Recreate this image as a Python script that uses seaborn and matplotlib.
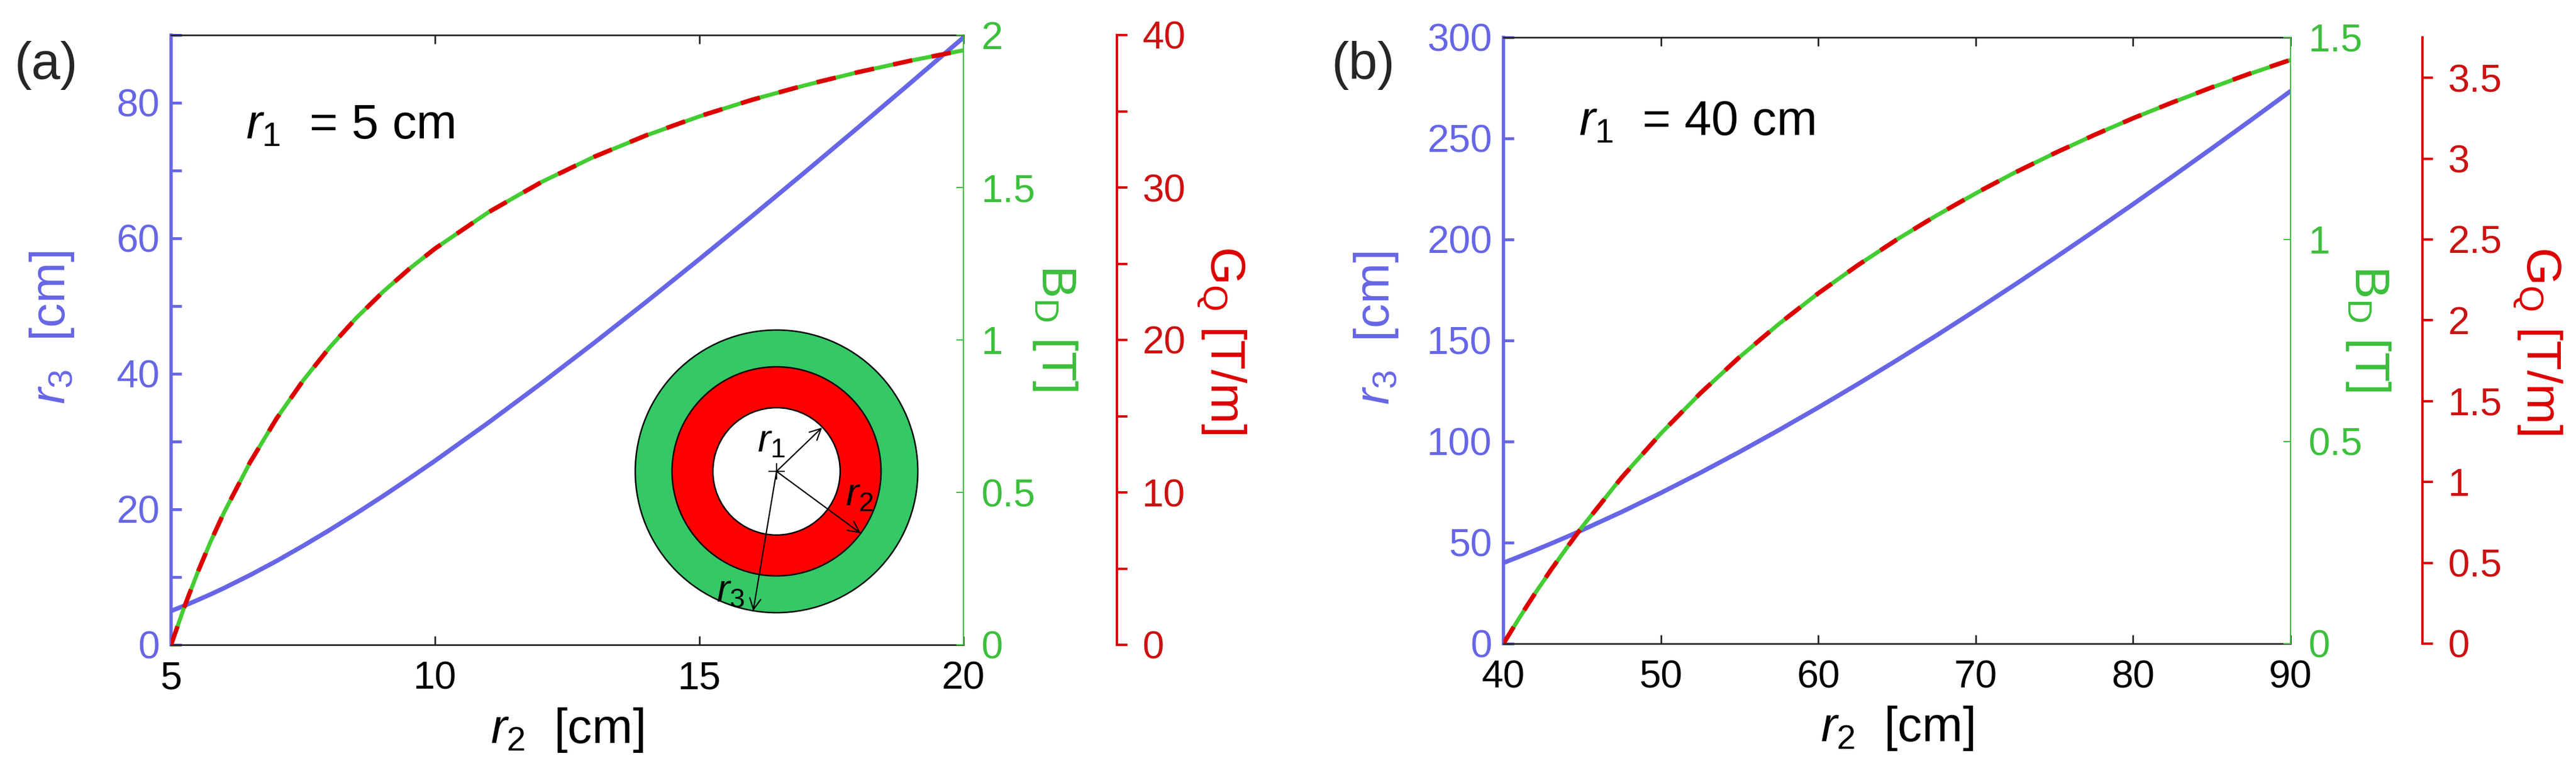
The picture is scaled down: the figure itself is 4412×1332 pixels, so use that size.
import matplotlib
matplotlib.use("Agg")
import matplotlib.pyplot as plt
import matplotlib.ticker as mticker
from matplotlib.patches import Circle
import seaborn as sns

# ── Data ─────────────────────────────────────────────────────────────────────
# panel (a): r1 = 5 cm
R2_A = [5, 5.25, 5.5, 5.75, 6, 6.5, 7, 7.5, 8, 8.5, 9, 9.5, 10,
        11, 12, 13, 14, 15, 16, 17, 18, 19, 20]
R3_A = [5.0, 5.77, 6.60, 7.46, 8.37, 10.31, 12.39, 14.61, 16.94, 19.37, 21.89, 24.50, 27.18,
        32.75, 38.54, 44.51, 50.64, 56.91, 63.28, 69.76, 76.31, 82.94, 89.63]
BD_A = [0.0, 0.124, 0.236, 0.339, 0.433, 0.600, 0.743, 0.867, 0.975, 1.071, 1.156, 1.232, 1.300,
        1.418, 1.517, 1.600, 1.671, 1.733, 1.788, 1.835, 1.878, 1.916, 1.950]
GQ_A = [0.0, 2.48, 4.73, 6.78, 8.67, 12.0, 14.86, 17.33, 19.5, 21.41, 23.11, 24.63, 26.0,
        28.36, 30.33, 32.0, 33.43, 34.67, 35.75, 36.71, 37.56, 38.32, 39.0]

# panel (b): r1 = 40 cm
R2_B = [40, 41, 42, 43, 44, 45, 47.5, 50, 52.5, 55, 57.5, 60, 62.5, 65,
        67.5, 70, 72.5, 75, 77.5, 80, 82.5, 85, 87.5, 90]
R3_B = [40.0, 43.05, 46.20, 49.44, 52.77, 56.20, 65.14, 74.59, 84.52, 94.90, 105.69, 116.86,
        128.40, 140.28, 152.46, 164.95, 177.71, 190.73, 203.98, 217.46, 231.16, 245.06,
        259.13, 273.39]
BD_B = [0.0, 0.063, 0.124, 0.181, 0.236, 0.289, 0.411, 0.520, 0.619, 0.709, 0.791, 0.867,
        0.936, 1.000, 1.059, 1.114, 1.166, 1.213, 1.258, 1.300, 1.339, 1.376, 1.411, 1.444]
GQ_B = [0.0, 0.159, 0.310, 0.454, 0.591, 0.722, 1.026, 1.300, 1.548, 1.773, 1.978, 2.167,
        2.340, 2.500, 2.648, 2.786, 2.914, 3.033, 3.145, 3.250, 3.348, 3.441, 3.529, 3.611]

# ticks
A_XTICKS = [5, 10, 15, 20]
A_R3_TICKS, A_R3_MINOR = [0, 20, 40, 60, 80], [10, 30, 50, 70, 90]
A_BD_TICKS = [0, 0.5, 1, 1.5, 2]
A_GQ_TICKS, A_GQ_MINOR = [0, 10, 20, 30, 40], [5, 15, 25, 35]
B_XTICKS = [40, 50, 60, 70, 80, 90]
B_R3_TICKS = [0, 50, 100, 150, 200, 250, 300]
B_BD_TICKS = [0, 0.5, 1, 1.5]
B_GQ_TICKS = [0, 0.5, 1, 1.5, 2, 2.5, 3, 3.5]

# ── Aesthetics ───────────────────────────────────────────────────────────────
BLUE = "#6666E6"
GREEN = "#3CBF3C"
GREEN_LINE = "#44CC33"
RED = "#DD0000"
RING_GREEN = "#35C866"
RING_RED = "#FF0000"

sns.set_theme(style="white")
plt.rcParams["font.family"] = ["Liberation Sans", "DejaVu Sans"]
plt.rcParams["mathtext.fontset"] = "custom"
plt.rcParams["mathtext.rm"] = "Liberation Sans"
plt.rcParams["mathtext.it"] = "Liberation Sans:italic"
plt.rcParams["mathtext.bf"] = "Liberation Sans:bold"

TICK_FS = 48
LABEL_FS = 60
W, H = 4412, 1332

fig = plt.figure(figsize=(W / 100, H / 100), dpi=100)
fig.patch.set_facecolor("white")


def px_rect(left, top, right, bottom):
    return [left / W, 1 - bottom / H, (right - left) / W, (bottom - top) / H]


def draw_panel(rect, r2, r3, bd, gq, xlim, r3lim, bdlim, gqlim,
               xticks, r3ticks, bdticks, gqticks, r3minor, gqminor,
               red_offset, label_x, note):
    ax = fig.add_axes(rect)
    sns.lineplot(x=r2, y=r3, ax=ax, color=BLUE, lw=5.5)
    ax2 = ax.twinx()
    sns.lineplot(x=r2, y=bd, ax=ax2, color=GREEN_LINE, lw=5)
    ax3 = ax.twinx()
    sns.lineplot(x=r2, y=gq, ax=ax3, color=RED, lw=5.5, linestyle=(0, (4.4, 4.4)))

    for a in (ax, ax2, ax3):
        a.set_xlim(*xlim)
        a.set_facecolor("none")
        a.grid(False)
        for s in a.spines.values():
            s.set_visible(False)
    ax.set_ylim(*r3lim)
    ax2.set_ylim(*bdlim)
    ax3.set_ylim(*gqlim)

    ax.spines["left"].set_visible(True)
    ax.spines["left"].set_color(BLUE)
    ax.spines["left"].set_linewidth(4)
    for side in ("top", "bottom"):
        ax.spines[side].set_visible(True)
        ax.spines[side].set_color("#222222")
        ax.spines[side].set_linewidth(2)
    ax2.spines["right"].set_visible(True)
    ax2.spines["right"].set_color(GREEN)
    ax2.spines["right"].set_linewidth(1.5)
    ax3.spines["right"].set_visible(True)
    ax3.spines["right"].set_color(RED)
    ax3.spines["right"].set_linewidth(3)
    ax3.spines["right"].set_position(("axes", red_offset))

    fmt = mticker.FormatStrFormatter("%g")
    ax.set_xticks(xticks)
    ax.xaxis.set_major_formatter(fmt)
    ax.tick_params(axis="x", which="both", direction="in", top=True, bottom=True,
                   length=11, width=2, color="#222222", labelsize=TICK_FS,
                   labelcolor="black", pad=20)

    ax.set_yticks(r3ticks)
    if r3minor:
        ax.set_yticks(r3minor, minor=True)
    ax.tick_params(axis="y", which="both", direction="in", length=13, width=3.5,
                   color=BLUE, labelcolor=BLUE, labelsize=TICK_FS, pad=14)

    ax2.set_yticks(bdticks)
    ax2.yaxis.set_major_formatter(fmt)
    ax2.tick_params(axis="y", which="both", direction="in", length=9, width=1.5,
                    color=GREEN, labelcolor=GREEN, labelsize=TICK_FS, pad=22)

    ax3.set_yticks(gqticks)
    ax3.yaxis.set_major_formatter(fmt)
    if gqminor:
        ax3.set_yticks(gqminor, minor=True)
    ax3.tick_params(axis="y", which="both", direction="out", length=13, width=3,
                    color=RED, labelcolor="#CC1111", labelsize=TICK_FS, pad=18)

    ax.set_xlabel("$r_2$  [cm]", fontsize=LABEL_FS, color="black", va="center")
    ax.xaxis.set_label_coords(0.5, -0.14)
    ax.set_ylabel("$r_3$  [cm]", fontsize=LABEL_FS, color=BLUE, va="center")
    ax.yaxis.set_label_coords(label_x[0], 0.52)
    ax2.set_ylabel(r"$\mathrm{B}_\mathrm{D}$ [T]", fontsize=LABEL_FS, color=GREEN,
                   rotation=270, va="center")
    ax2.yaxis.set_label_coords(label_x[1], 0.52)
    ax3.set_ylabel(r"$\mathrm{G}_\mathrm{Q}$ [T/m]", fontsize=LABEL_FS, color=RED,
                   rotation=270, va="center")
    ax3.yaxis.set_label_coords(label_x[2], 0.5)

    ax.text(note[0], note[1], note[2], transform=ax.transAxes, fontsize=LABEL_FS,
            ha="left", va="baseline", color="black")
    return ax


draw_panel(px_rect(293, 60, 1650, 1104), R2_A, R3_A, BD_A, GQ_A,
           (5, 20), (0, 90), (0, 2), (0, 40),
           A_XTICKS, A_R3_TICKS, A_BD_TICKS, A_GQ_TICKS, A_R3_MINOR, A_GQ_MINOR,
           1.194, (-0.150, 1.116, 1.326), (0.094, 0.830, "$r_1$  = 5 cm"))

draw_panel(px_rect(2575, 64, 3923, 1102), R2_B, R3_B, BD_B, GQ_B,
           (40, 90), (0, 300), (0, 1.5), (0, 3.75),
           B_XTICKS, B_R3_TICKS, B_BD_TICKS, B_GQ_TICKS, None, None,
           1.168, (-0.162, 1.099, 1.314), (0.096, 0.838, "$r_1$  = 40 cm"))

# ── Inset schematic of the nested rings (panel a) ────────────────────────────
ins = fig.add_axes(px_rect(1080, 557, 1580, 1057))
ins.set_xlim(-250, 250)
ins.set_ylim(-250, 250)
ins.axis("off")
for radius, fc in ((242, RING_GREEN), (179, RING_RED), (109, "white")):
    ins.add_patch(Circle((0, 0), radius, facecolor=fc, edgecolor="black", lw=1.8))
ins.plot([0], [0], marker="+", color="black", ms=20, mew=1.5)
arrow = dict(arrowstyle="->", lw=1.6, color="black", mutation_scale=34, shrinkA=0, shrinkB=0)
for tip in ((78, 75), (144, -106), (-40, -239)):
    ins.annotate("", xy=tip, xytext=(0, 0), arrowprops=arrow)
for pos, txt in (((-9, 50), "$r_1$"), ((142, -41), "$r_2$"), ((-79, -205), "$r_3$")):
    ins.text(pos[0], pos[1], txt, fontsize=48, ha="center", va="center", color="black")

fig.text(25 / W, 1 - 112 / H, "(a)", fontsize=64, va="center", ha="left")
fig.text(2281 / W, 1 - 112 / H, "(b)", fontsize=64, va="center", ha="left")

fig.savefig("out.png", dpi=100, facecolor="white")
